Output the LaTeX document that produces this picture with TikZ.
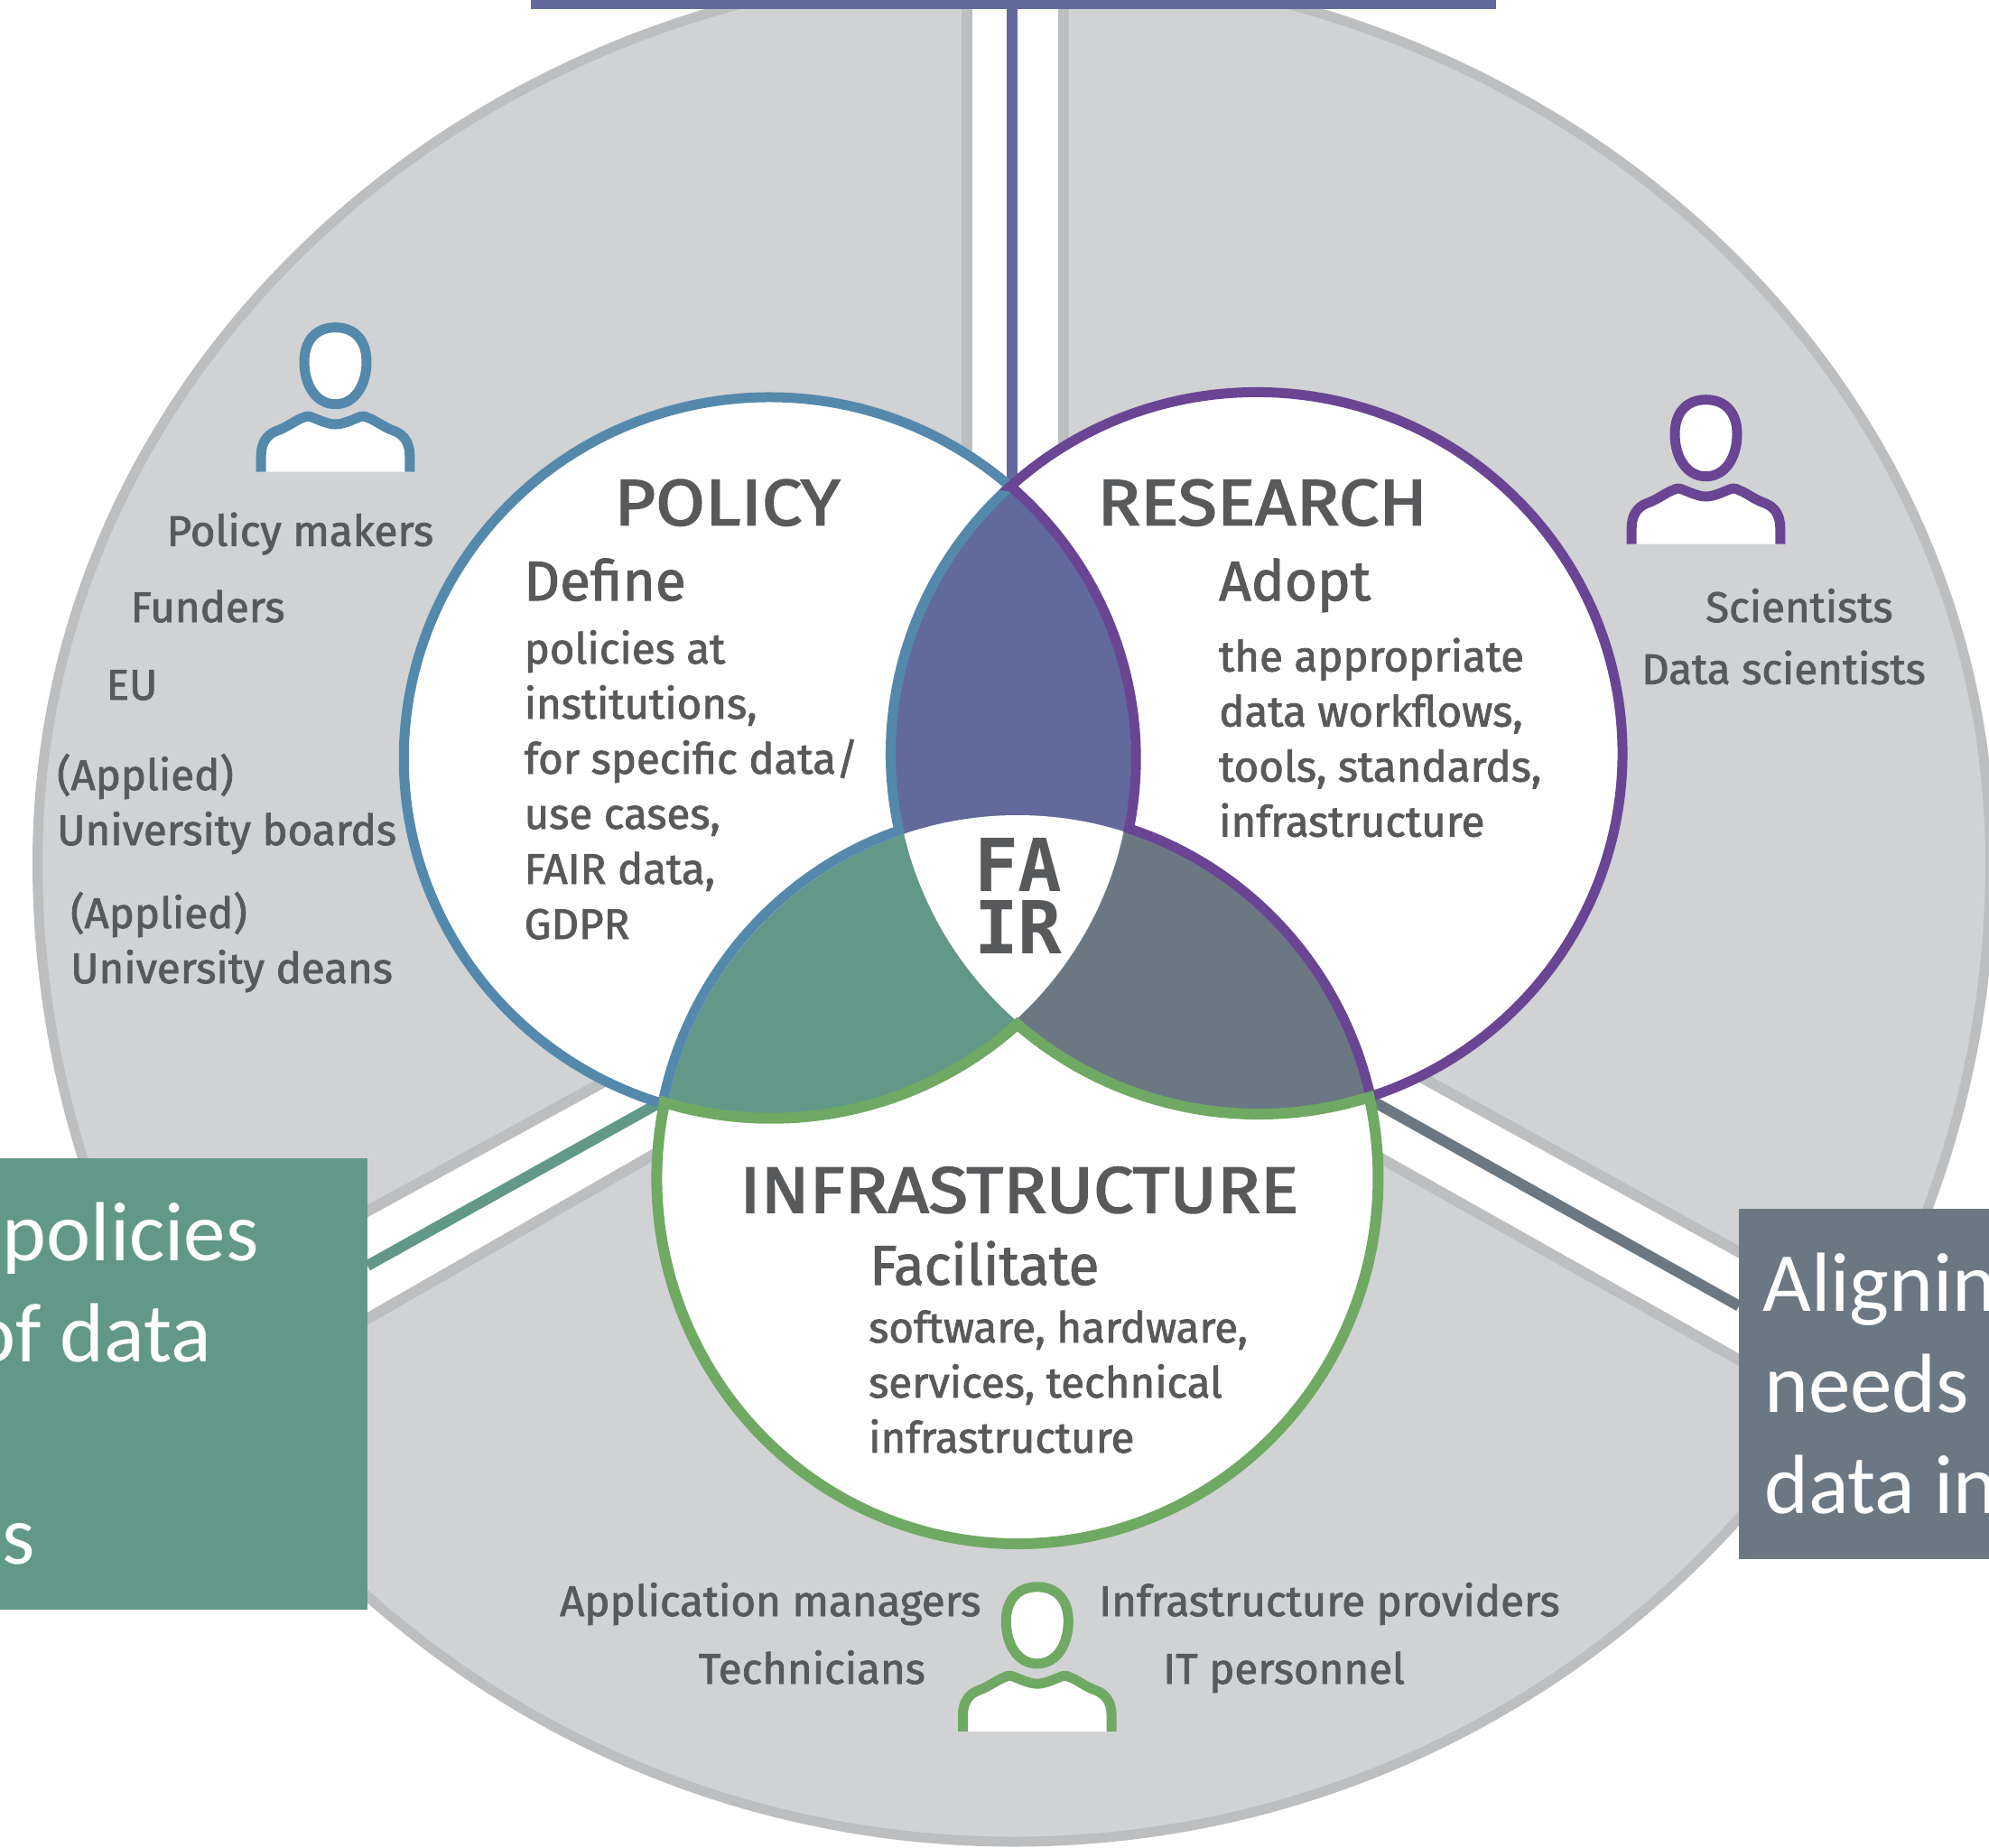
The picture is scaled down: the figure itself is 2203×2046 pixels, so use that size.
\documentclass[tikz,border=0pt]{standalone}
\usepackage{fontspec}
\setmainfont{Fira Sans}[FakeBold=1.7]
\newfontfamily\boxfont{Carlito}
\newfontfamily\logofont{DejaVu Sans Mono}[BoldFont={DejaVu Sans Mono Bold}]
\usepackage{tikz}
\usetikzlibrary{positioning}

\definecolor{diskgray}{HTML}{D1D2D4}
\definecolor{edgegray}{HTML}{BCBEC0}
\definecolor{textgray}{HTML}{58595B}
\definecolor{policyblue}{HTML}{5489AC}
\definecolor{researchpurple}{HTML}{694593}
\definecolor{infragreen}{HTML}{6FA963}
\definecolor{lensviolet}{HTML}{62699C}
\definecolor{lensteal}{HTML}{619888}
\definecolor{lensslate}{HTML}{6B7884}

\tikzset{
  heading/.style={anchor=base west,inner sep=0pt,text=textgray,font=\addfontfeature{FakeStretch=1.1,FakeBold=2.4}\fontsize{72}{72}\selectfont},
  verb/.style={anchor=base west,inner sep=0pt,text=textgray,font=\fontsize{62}{62}\selectfont},
  body/.style={anchor=base west,inner sep=0pt,text=textgray,font=\fontsize{47.4}{61}\selectfont,align=left},
  banner/.style={inner sep=0pt,anchor=north west},
  bannertext/.style={inner sep=0pt,text=white,font=\boxfont\fontsize{93}{93}\selectfont},
  logotext/.style={anchor=base west,inner sep=0pt,text=textgray,font=\logofont\bfseries\fontsize{81}{81}\selectfont},
  edge/.style={edgegray,line width=12pt},
  spoke/.style={line width=12pt},
  outline/.style={line width=11pt,miter limit=10},
  person/.pic={
    \draw[pic actions,fill=white,line width=11pt] (0,-160) .. controls (22,-160) and (34.5,-145) .. (34.5,-122)
      .. controls (34.5,-97) and (22,-75) .. (0,-75) .. controls (-22,-75) and (-34.5,-97) .. (-34.5,-122)
      .. controls (-34.5,-145) and (-22,-160) .. (0,-160) -- cycle;
    \draw[pic actions,fill=white,line width=11pt] (-82.3,0) -- (-82.3,-18) .. controls (-82.3,-32) and (-76,-41) .. (-66,-45)
      .. controls (-52,-50) and (-45,-57) .. (-36,-60) .. controls (-33,-62) and (-29,-62) .. (-26,-60.5)
      .. controls (-17,-57) and (-8,-52.7) .. (0,-52.7) .. controls (8,-52.7) and (17,-57) .. (26,-60.5)
      .. controls (29,-62) and (33,-62) .. (36,-60) .. controls (45,-57) and (52,-50) .. (66,-45)
      .. controls (76,-41) and (82.3,-32) .. (82.3,-18) -- (82.3,0);
  }
}

\begin{document}
\begin{tikzpicture}[x=1pt,y=-1pt]
  \useasboundingbox (0,0) rectangle (2203,2046);
  \clip (0,0) rectangle (2203,2046);

  % outer disk
  \draw[fill=diskgray,draw=edgegray,line width=11pt] (2204.5,955)
    arc[start angle=0,end angle=180,x radius=1081.5,y radius=1085]
    arc[start angle=180,end angle=360,x radius=1081.5,y radius=990] -- cycle;

  % white bands with grey edges
  \fill[white] (1071,0) rectangle (1178,700);
  \draw[edge] (1071,0) -- (1071,700);
  \draw[edge] (1178,0) -- (1178,700);
  \fill[white] (900,1072) -- (300,1400) -- (300,1522) -- (900,1178) -- cycle;
  \draw[edge] (900,1072) -- (300,1400);
  \draw[edge] (900,1178) -- (300,1522);
  \fill[white] (1350,1070) -- (2050,1455) -- (2050,1576) -- (1350,1182) -- cycle;
  \draw[edge] (1350,1070) -- (2050,1455);
  \draw[edge] (1350,1182) -- (2050,1576);

  % three circles
  \fill[white] (852,840) ellipse[x radius=405,y radius=400];
  \fill[white] (1392,834.5) ellipse[x radius=405,y radius=400];
  \fill[white] (1127,1305) ellipse[x radius=399.5,y radius=405];

  % overlaps
  \begin{scope}
    \clip (852,840) ellipse[x radius=401,y radius=395.5];
    \clip (1392,834.5) ellipse[x radius=401,y radius=396];
    \fill[lensviolet] (900,400) rectangle (1300,1200);
  \end{scope}
  \begin{scope}
    \clip (852,840) ellipse[x radius=401,y radius=395.5];
    \clip (1127,1305) ellipse[x radius=396,y radius=402];
    \fill[lensteal] (600,850) rectangle (1300,1300);
  \end{scope}
  \begin{scope}
    \clip (1392,834.5) ellipse[x radius=401,y radius=396];
    \clip (1127,1305) ellipse[x radius=396,y radius=402];
    \fill[lensslate] (950,850) rectangle (1600,1300);
  \end{scope}
  \begin{scope}
    \clip (852,840) ellipse[x radius=401,y radius=395.5];
    \clip (1392,834.5) ellipse[x radius=401,y radius=396];
    \clip (1127,1305) ellipse[x radius=396,y radius=402];
    \fill[white] (900,850) rectangle (1300,1200);
  \end{scope}

  % banners
  \node[banner,fill=lensviolet,minimum width=1069pt,minimum height=10pt](topbar) at (588,0) {};
  \node[banner,fill=lensteal,minimum width=407pt,minimum height=499.5pt](leftbar) at (0,1283) {};
  \node[banner,fill=lensslate,minimum width=277pt,minimum height=388pt](rightbar) at (1926,1339) {};
  \coordinate (toptip) at (1120.7,541);
  \coordinate (lefttip) at (735,1219);
  \coordinate (righttip) at (1512,1215);
  \draw[spoke,lensviolet] (toptip) -- (toptip |- topbar.south);
  \draw[spoke,lensteal] (lefttip) -- (407,1402);
  \draw[spoke,lensslate] (righttip) -- (1926,1446.6);

  % crescents
  \draw[outline,policyblue] (1119,539)
    arc[start angle=-48.8,end angle=-253,x radius=405,y radius=400]
    arc[start angle=-168.4,end angle=-109,x radius=400.5,y radius=406.5]
    arc[start angle=167.7,end angle=227.6,x radius=405,y radius=400] -- cycle;
  \draw[outline,researchpurple] (1119,539)
    arc[start angle=-132.4,end angle=71.9,x radius=405,y radius=400]
    arc[start angle=-12.8,end angle=-72.1,x radius=400.5,y radius=406.5]
    arc[start angle=11.2,end angle=-48.8,x radius=405,y radius=400] -- cycle;
  \draw[outline,infragreen,line width=12pt] (735.5,1224.3)
    arc[start angle=191.5,end angle=-12.8,x radius=399.5,y radius=405]
    arc[start angle=72.4,end angle=131.3,x radius=405,y radius=400]
    arc[start angle=47.7,end angle=107,x radius=405,y radius=400] -- cycle;

  % people
  \pic[draw=policyblue] (policyperson) at (371.5,522.7) {person};
  \pic[draw=researchpurple] (researchperson) at (1889.5,602.7) {person};
  \pic[draw=infragreen] (infraperson) at (1148.8,1917.8) {person};

  % policy
  \node[heading](policy) at (680,581.6) {POLICY};
  \node[verb](define) at (580,665) {Define};
  \node[body](policytext) at (580.5,1040) {policies at\\institutions,\\for specific data/\\use cases,\\FAIR data,\\GDPR};
  \node[body](makers) at (184.5,604.6) {Policy makers};
  \node[body](funders) at (144.5,689) {Funders};
  \node[body](eu) at (117.5,775) {EU};
  \node[body](boards) at (63,936) {(Applied)\\University boards};
  \node[body](deans) at (78,1089) {(Applied)\\University deans};

  % research
  \node[heading](research) at (1215,581.6) {RESEARCH};
  \node[verb](adopt) at (1350,665) {Adopt};
  \node[body](researchtext) at (1350,926.6) {the appropriate\\data workflows,\\tools, standards,\\infrastructure};
  \node[body](scientists) at (1889,689) {Scientists};
  \node[body](datasci) at (1818,757.6) {Data scientists};

  % infrastructure
  \node[heading](infra) at (819,1343) {INFRASTRUCTURE};
  \node[verb](facilitate) at (963,1423) {Facilitate};
  \node[body](infratext) at (962,1609) {software, hardware,\\services, technical\\infrastructure};
  \node[body](appman) at (620,1790) {Application managers};
  \node[body](tech) at (773.6,1865) {Technicians};
  \node[body](provider) at (1217,1790) {Infrastructure providers};
  \node[body](itstaff) at (1288,1865) {IT personnel};

  % logo
  \node[logotext](fa) at (1079,987) {FA};
  \node[logotext](ir) at (1079,1056.7) {IR};

  % banner texts
  \node[bannertext,anchor=base east](leftone) at (287,1396) {policies};
  \node[bannertext,anchor=base east](lefttwo) at (234,1508) {of data};
  \node[bannertext,anchor=base west](leftthree) at (2,1732.6) {s};
  \node[bannertext,anchor=base west](rightone) at (1952,1452) {Alignin};
  \node[bannertext,anchor=base west](righttwo) at (1954,1564.5) {needs};
  \node[bannertext,anchor=base west](rightthree) at (1954,1676) {data in};
\end{tikzpicture}
\end{document}
